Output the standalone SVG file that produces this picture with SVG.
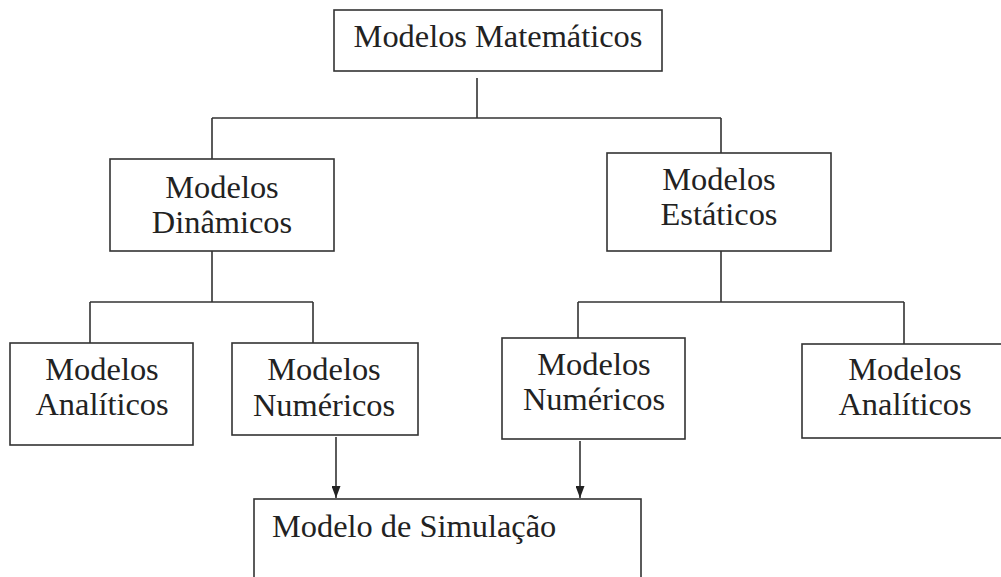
<svg xmlns="http://www.w3.org/2000/svg" width="1001" height="577" viewBox="0 0 1001 577">
<style>
.box{fill:#fff;stroke:#333;stroke-width:1.6}
.ln{fill:none;stroke:#333;stroke-width:1.6}
text{font-family:"Liberation Serif","Times New Roman",serif;font-size:32.4px;fill:#222;text-anchor:middle}
</style>
<defs>
<marker id="ah" viewBox="0 0 12 9" refX="12" refY="4.5" markerWidth="12" markerHeight="9" markerUnits="userSpaceOnUse" orient="auto">
<path d="M0,0 L12,4.5 L0,9 Z" fill="#222"/>
</marker>
</defs>
<rect width="1001" height="577" fill="#fff"/>
<g id="connectors">
<path class="ln" d="M477,78 V118 M212,118 H721 M212,118 V159 M721,118 V153"/>
<path class="ln" d="M212,251 V302 M90,302 H313 M90,302 V343 M313,302 V343"/>
<path class="ln" d="M721,251 V302 M578,302 H904 M578,302 V338 M904,302 V344"/>
<path class="ln" d="M336,437 V498" marker-end="url(#ah)"/>
<path class="ln" d="M580,441 V498" marker-end="url(#ah)"/>
</g>
<g id="n-matematicos"><rect class="box" x="334" y="10" width="328" height="61"/><text x="498" y="47">Modelos Matemáticos</text></g>
<g id="n-dinamicos"><rect class="box" x="110" y="159" width="224" height="92"/><text x="222" y="198">Modelos</text><text x="222" y="233">Dinâmicos</text></g>
<g id="n-estaticos"><rect class="box" x="607" y="153" width="224" height="98"/><text x="719" y="190">Modelos</text><text x="719" y="225">Estáticos</text></g>
<g id="n-analiticos-1"><rect class="box" x="10" y="343" width="183" height="102"/><text x="102" y="380">Modelos</text><text x="102" y="415">Analíticos</text></g>
<g id="n-numericos-1"><rect class="box" x="232" y="343" width="186" height="92"/><text x="324" y="380">Modelos</text><text x="324" y="416">Numéricos</text></g>
<g id="n-numericos-2"><rect class="box" x="502" y="338" width="183" height="101"/><text x="594" y="375">Modelos</text><text x="594" y="410">Numéricos</text></g>
<g id="n-analiticos-2"><rect class="box" x="802" y="344" width="205" height="94"/><text x="905" y="380">Modelos</text><text x="905" y="415">Analíticos</text></g>
<g id="n-simulacao"><rect class="box" x="254" y="499" width="387" height="90"/><text x="272" y="537" style="text-anchor:start">Modelo de Simulação</text></g>
</svg>
